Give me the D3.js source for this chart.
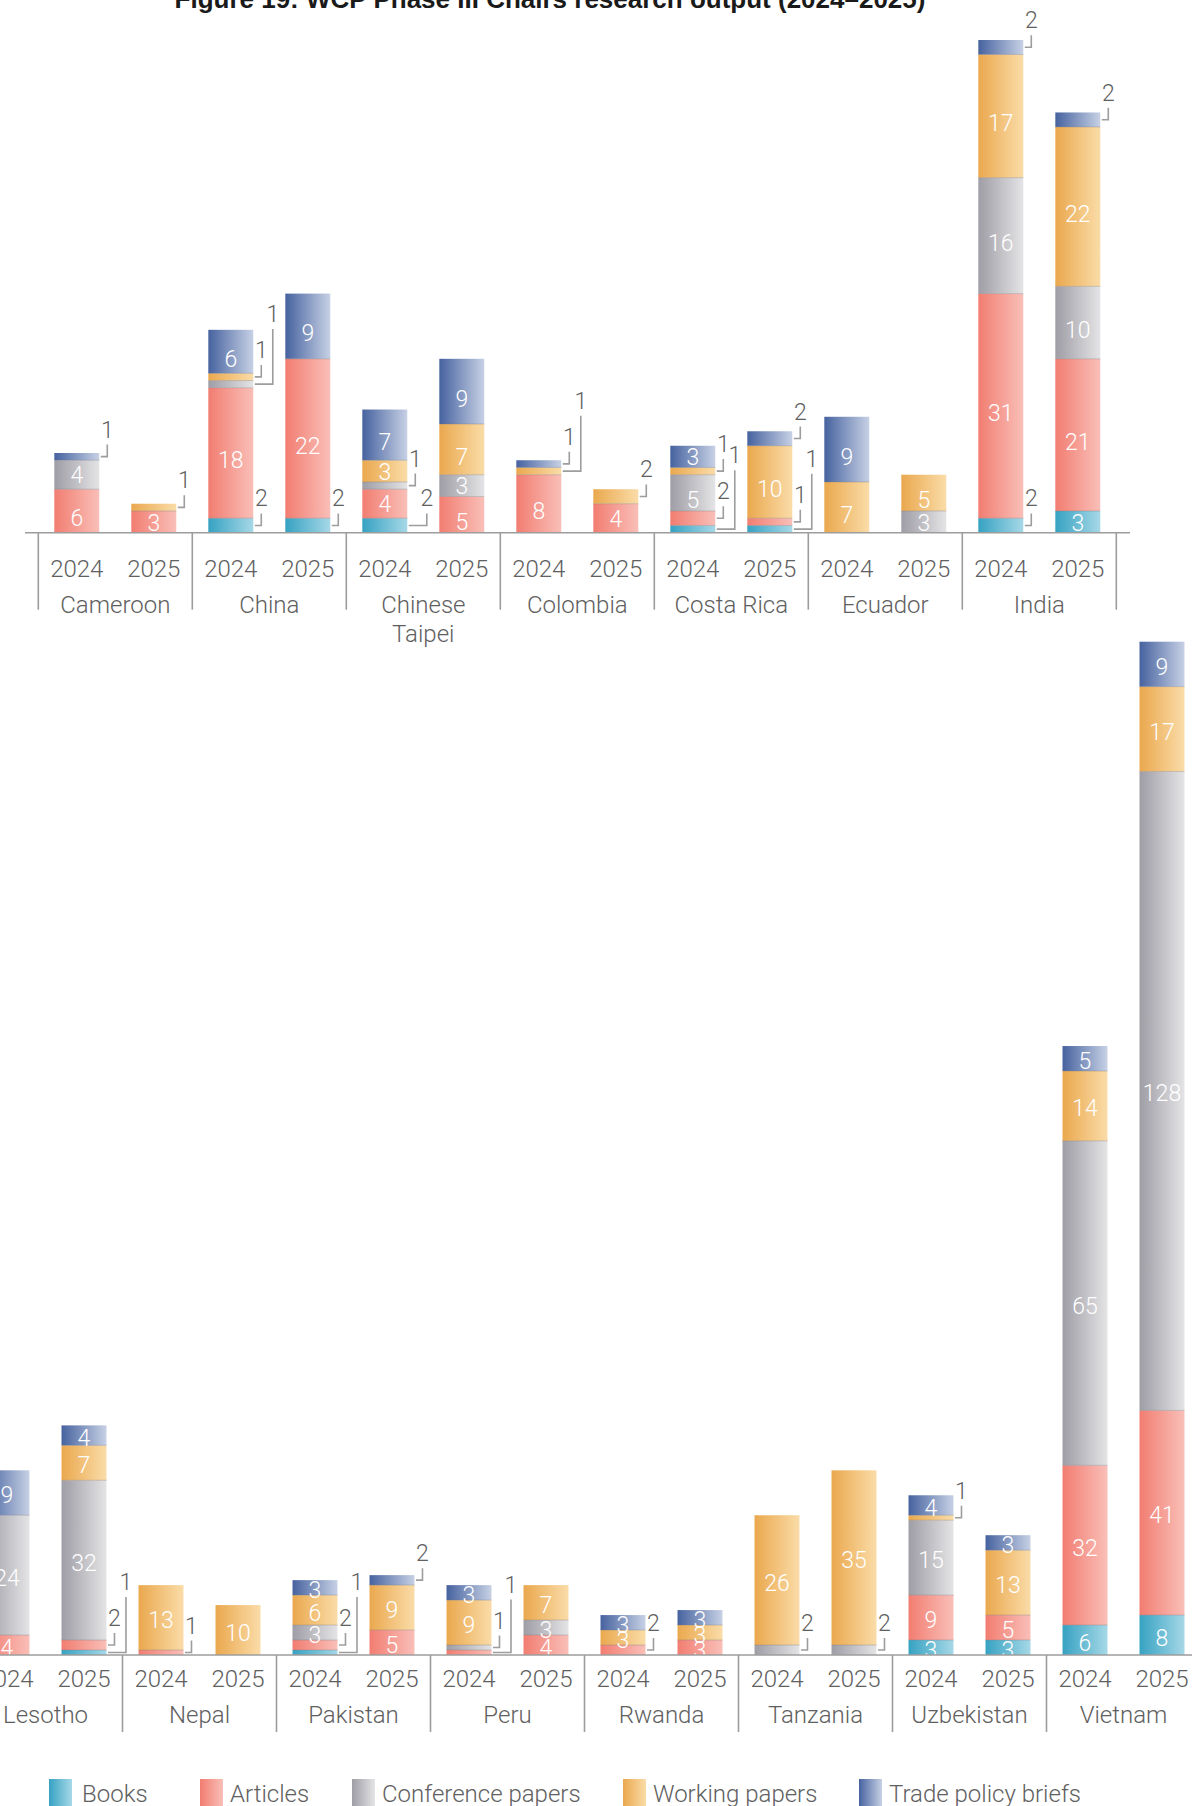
<!DOCTYPE html>
<html>
<head>
<meta charset="utf-8">
<script src="https://cdn.jsdelivr.net/npm/d3@7"></script>
<style>
  html, body { margin: 0; padding: 0; background: #ffffff; }
  svg { display: block; }
</style>
</head>
<body>
<svg id="chart" width="1192" height="1806"></svg>
<script>
// ---- Data -------------------------------------------------------------
const seriesNames = ["Books", "Articles", "Conference papers", "Working papers", "Trade policy briefs"];
const seriesKeys  = ["books", "articles", "conference", "working", "trade"];
const years = ["2024", "2025"];

// First row of countries; each series lists [2024, 2025] per country
const topCountries = ["Cameroon", "China", "Chinese Taipei", "Colombia", "Costa Rica", "Ecuador", "India"];
const topBooks      = [0, 0,   2, 2,   2, 0,   0, 0,   1, 1,   0, 0,   2, 3];
const topArticles   = [6, 3,  18, 22,  4, 5,   8, 4,   2, 1,   0, 0,  31, 21];
const topConference = [4, 0,   1, 0,   1, 3,   0, 0,   5, 0,   0, 3,  16, 10];
const topWorking    = [0, 1,   1, 0,   3, 7,   1, 2,   1, 10,  7, 5,  17, 22];
const topTrade      = [1, 0,   6, 9,   7, 9,   1, 0,   3, 2,   9, 0,   2, 2];

// Second row of countries
const bottomCountries = ["Lesotho", "Nepal", "Pakistan", "Peru", "Rwanda", "Tanzania", "Uzbekistan", "Vietnam"];
const bottomBooks      = [0, 1,   0, 0,   1, 0,   0, 0,   0, 0,   0, 0,    3, 3,    6, 8];
const bottomArticles   = [4, 2,   1, 0,   2, 5,   1, 4,   2, 3,   0, 0,    9, 5,   32, 41];
const bottomConference = [24, 32, 0, 0,   3, 0,   1, 3,   0, 0,   2, 2,   15, 0,   65, 128];
const bottomWorking    = [0, 7,  13, 10,  6, 9,   9, 7,   3, 3,  26, 35,    1, 13,  14, 17];
const bottomTrade      = [9, 4,   0, 0,   3, 2,   3, 0,   3, 3,   0, 0,    4, 3,    5, 9];

const titleText = "Figure 19: WCP Phase III Chairs research output (2024\u20132025)";

// ---- Styling ----------------------------------------------------------
const gradientStops = {
  books:      ["#36a2c2", "#a6d8e7"],
  articles:   ["#f27d71", "#f9bfb8"],
  conference: ["#9f9da5", "#e4e4e6"],
  working:    ["#eaa84e", "#fadca8"],
  trade:      ["#46629f", "#c7d1e5"]
};
const FONT = "Roboto, 'Noto Sans', sans-serif";
const AXIS_GREY = "#9d9d9d";
const TEXT_GREY = "#606060";

const svg = d3.select("#chart");
const defs = svg.append("defs");
seriesKeys.forEach(k => {
  const g = defs.append("linearGradient")
    .attr("id", "grad-" + k)
    .attr("x1", 0).attr("x2", 1).attr("y1", 0).attr("y2", 0);
  g.append("stop").attr("offset", "0%").attr("stop-color", gradientStops[k][0]);
  g.append("stop").attr("offset", "100%").attr("stop-color", gradientStops[k][1]);
});

function buildRows(countries, cols) {
  const rows = [];
  countries.forEach((c, i) => {
    years.forEach((y, j) => {
      const r = { country: c, year: y };
      seriesKeys.forEach((k, s) => { r[k] = cols[s][i * 2 + j]; });
      rows.push(r);
    });
  });
  return rows;
}

// Wrap a text element onto several lines if it exceeds maxWidth
function wrap(textSel, maxWidth, lineHeight) {
  textSel.each(function () {
    const t = d3.select(this);
    const words = t.text().split(/\s+/);
    const x = t.attr("x"), y = t.attr("y");
    t.text(null);
    let line = [];
    let tspan = t.append("tspan").attr("x", x).attr("y", y);
    let lineNo = 0;
    words.forEach(w => {
      line.push(w);
      tspan.text(line.join(" "));
      if (tspan.node().getComputedTextLength() > maxWidth && line.length > 1) {
        line.pop();
        tspan.text(line.join(" "));
        line = [w];
        lineNo++;
        tspan = t.append("tspan").attr("x", x).attr("y", +y + lineNo * lineHeight).text(w);
      }
    });
  });
}

function drawPanel(cfg) {
  const rows = buildRows(cfg.countries, cfg.cols);
  const stacked = d3.stack().keys(seriesKeys)(rows);
  const maxTotal = d3.max(rows, r => d3.sum(seriesKeys, k => r[k]));

  const x0 = d3.scaleBand()
    .domain(cfg.countries)
    .range([cfg.xStart, cfg.xStart + cfg.countries.length * cfg.pitch])
    .padding(0);
  const x1 = d3.scaleBand()
    .domain(years)
    .range([0, x0.bandwidth()])
    .paddingInner(0.416)
    .paddingOuter(0.208);
  const y = d3.scaleLinear()
    .domain([0, maxTotal])
    .range([cfg.baseline, cfg.tallestTop]);

  const g = svg.append("g");
  const barX = d => x0(d.data.country) + x1(d.data.year);

  // stacked segments
  const layers = g.selectAll("g.layer")
    .data(stacked)
    .join("g")
    .attr("class", "layer")
    .attr("fill", d => "url(#grad-" + d.key + ")");

  layers.selectAll("rect")
    .data(d => d.filter(p => p[1] > p[0]))
    .join("rect")
    .attr("x", barX)
    .attr("width", x1.bandwidth())
    .attr("y", d => y(d[1]))
    .attr("height", d => y(d[0]) - y(d[1]));

  // thin seams between stacked segments
  stacked.forEach(layer => {
    g.append("g").selectAll("line")
      .data(layer.filter(p => p[1] > p[0] && p[0] > 0))
      .join("line")
      .attr("x1", barX)
      .attr("x2", d => barX(d) + x1.bandwidth())
      .attr("y1", d => y(d[0]))
      .attr("y2", d => y(d[0]))
      .attr("stroke", "rgba(120,120,130,0.35)")
      .attr("stroke-width", 1);
  });

  // value labels inside the segments (short segments keep the label centred)
  stacked.forEach(layer => {
    g.append("g").selectAll("text")
      .data(layer.filter(p => p[1] - p[0] >= 3))
      .join("text")
      .attr("x", d => barX(d) + x1.bandwidth() / 2)
      .attr("y", d => {
        const mid = (y(d[0]) + y(d[1])) / 2;
        const tall = (y(d[0]) - y(d[1])) >= cfg.tallSegment;
        return mid + 8.2 + (tall ? cfg.valueShift : cfg.shortShift);
      })
      .attr("text-anchor", "middle")
      .attr("font-family", FONT)
      .attr("font-weight", 300)
      .attr("font-size", 23)
      .attr("fill", "#ffffff")
      .text(d => d[1] - d[0]);
  });

  // call-out labels for thin segments (values of 1 or 2)
  rows.forEach((r, idx) => {
    const small = [];
    stacked.forEach(layer => {
      const p = layer[idx];
      const v = p[1] - p[0];
      if (v > 0 && v <= 2) small.push({ v, mid: (y(p[0]) + y(p[1])) / 2 });
    });
    small.sort((a, b) => a.mid - b.mid); // top to bottom
    const right = x0(r.country) + x1(r.year) + x1.bandwidth();
    let prev = null;
    small.forEach(c => {
      let outer = false;
      let labelY = c.mid - 19;
      if (prev && !prev.outer && c.mid - prev.mid < 42) {
        outer = true;
        if (c.mid - prev.mid < 20) labelY = prev.labelY - 36;
      }
      c.outer = outer;
      c.labelY = labelY;
      const vx = right + (outer ? 19.5 : 8);
      g.append("path")
        .attr("d", `M${right + 1.5},${c.mid}H${vx}V${labelY + 7}`)
        .attr("fill", "none")
        .attr("stroke", AXIS_GREY)
        .attr("stroke-width", 1.6);
      g.append("text")
        .attr("x", vx)
        .attr("y", labelY)
        .attr("text-anchor", "middle")
        .attr("font-family", FONT)
        .attr("font-weight", 300)
        .attr("font-size", 23)
        .attr("fill", TEXT_GREY)
        .text(c.v);
      prev = c;
    });
  });

  // category axis: baseline, group dividers, year and country labels
  g.append("line")
    .attr("x1", cfg.axisFrom).attr("x2", cfg.axisTo)
    .attr("y1", cfg.baseline).attr("y2", cfg.baseline)
    .attr("stroke", AXIS_GREY).attr("stroke-width", 1.6);

  const edges = cfg.countries.map(c => x0(c)).concat([x0.range()[1]]);
  g.append("g").selectAll("line")
    .data(edges)
    .join("line")
    .attr("x1", d => d).attr("x2", d => d)
    .attr("y1", cfg.baseline).attr("y2", cfg.baseline + cfg.dividerLen)
    .attr("stroke", AXIS_GREY).attr("stroke-width", 1.6);

  g.append("g").selectAll("text")
    .data(rows)
    .join("text")
    .attr("x", r => x0(r.country) + x1(r.year) + x1.bandwidth() / 2)
    .attr("y", cfg.baseline + cfg.yearDy)
    .attr("text-anchor", "middle")
    .attr("font-family", FONT)
    .attr("font-weight", 300)
    .attr("font-size", 24)
    .attr("fill", TEXT_GREY)
    .text(r => r.year);

  g.append("g").selectAll("text")
    .data(cfg.countries)
    .join("text")
    .attr("x", c => x0(c) + x0.bandwidth() / 2)
    .attr("y", cfg.baseline + cfg.countryDy)
    .attr("text-anchor", "middle")
    .attr("font-family", FONT)
    .attr("font-weight", 300)
    .attr("font-size", 24)
    .attr("fill", TEXT_GREY)
    .text(c => c)
    .call(wrap, 140, 28.5);
}

// title (the top edge of the page trims it)
svg.append("text")
  .attr("x", 550)
  .attr("y", 8)
  .attr("text-anchor", "middle")
  .attr("font-family", "'Liberation Sans', Arial, sans-serif")
  .attr("font-weight", 700)
  .attr("font-size", 26)
  .attr("fill", "#1a1a1a")
  .text(titleText);

drawPanel({
  countries: topCountries,
  cols: [topBooks, topArticles, topConference, topWorking, topTrade],
  xStart: 38.3, pitch: 154,
  baseline: 532.7, tallestTop: 40,
  axisFrom: 25, axisTo: 1130,
  dividerLen: 77, yearDy: 44, countryDy: 80.6,
  tallSegment: 36, valueShift: 7, shortShift: 0.5
});

drawPanel({
  countries: bottomCountries,
  cols: [bottomBooks, bottomArticles, bottomConference, bottomWorking, bottomTrade],
  xStart: -31.5, pitch: 154,
  baseline: 1655, tallestTop: 641.7,
  axisFrom: 0, axisTo: 1192,
  dividerLen: 77, yearDy: 31.7, countryDy: 68.3,
  tallSegment: 0, valueShift: 2.3, shortShift: 2.3
});

// legend
const legendX = [49, 200, 352, 623, 859];
const legend = svg.append("g").selectAll("g")
  .data(seriesKeys)
  .join("g")
  .attr("transform", (k, i) => `translate(${legendX[i]},1779)`);
legend.append("rect")
  .attr("width", 23).attr("height", 28)
  .attr("fill", k => "url(#grad-" + k + ")");
legend.append("text")
  .attr("x", (k, i) => i === 0 ? 33 : 30)
  .attr("y", 23)
  .attr("font-family", FONT)
  .attr("font-weight", 300)
  .attr("font-size", 24)
  .attr("fill", TEXT_GREY)
  .text((k, i) => seriesNames[i]);
</script>
</body>
</html>
